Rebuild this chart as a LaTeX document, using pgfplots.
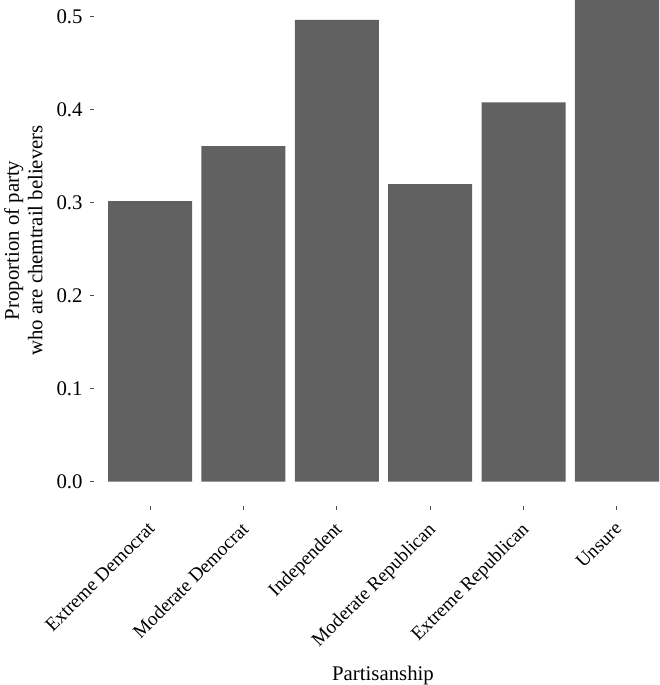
\documentclass[border=0pt]{standalone}
\usepackage{pgfplots}
\pgfplotsset{compat=1.18}
\usepackage{fontspec}
\setmainfont{Liberation Serif}
\definecolor{barc}{HTML}{616161}
\begin{document}
\begin{tikzpicture}
\begin{axis}[
  scale only axis,
  width=282.5pt, height=253pt,
  xmin=-0.6, xmax=5.45,
  ymin=-0.0261, ymax=0.518,
  axis line style={draw=none},
  tick align=outside,
  major tick length=2pt,
  tick style={black!70, line width=0.5pt},
  xtick pos=bottom, ytick pos=left,
  xtick={0,1,2,3,4,5},
  xticklabels={Extreme Democrat, Moderate Democrat, Independent, Moderate Republican, Extreme Republican, Unsure},
  ytick={0,0.1,0.2,0.3,0.4,0.5},
  /pgf/number format/assume math mode=true,
  yticklabel={\pgfmathprintnumber[fixed,fixed zerofill,precision=1]{\tick}},
  yticklabel style={font=\fontsize{10.4}{10.4}\selectfont, anchor=east, inner sep=0pt, xshift=-3.5pt},
  xticklabel style={font=\fontsize{9.6}{9.6}\selectfont, rotate=45, anchor=north east, inner sep=0pt, yshift=-2.5pt, xshift=-4.8pt},
  xlabel={Partisanship},
  xlabel style={font=\fontsize{10.4}{10.4}\selectfont, at={(axis description cs:0.5115,-0.3439)}, anchor=base, inner sep=0pt},
  ylabel={Proportion of party\\who are chemtrail believers},
  ylabel style={font=\fontsize{10.4}{11.8}\selectfont, align=center, at={(axis description cs:-0.125,0.525)}, anchor=center, inner sep=0pt},
  clip=true,
]
\addplot[ybar, bar width=0.9, fill=barc, draw=none] coordinates {(0,0.3018) (1,0.361) (2,0.4965) (3,0.320) (4,0.408) (5,0.55)};
\end{axis}
\pgfresetboundingbox
\path[use as bounding box] ([shift={(-47pt,-89.5pt)}]current axis.south west) rectangle (current axis.north east);
\end{tikzpicture}
\end{document}
